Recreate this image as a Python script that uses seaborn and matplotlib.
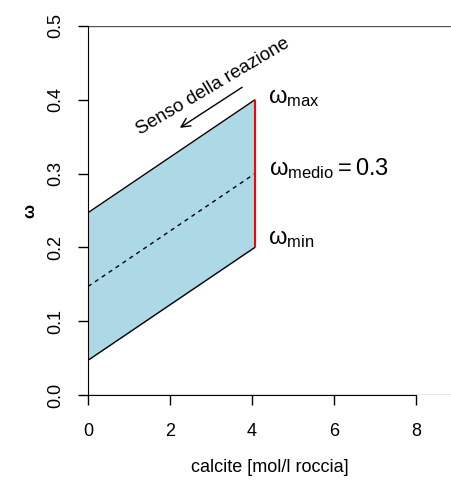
import matplotlib
matplotlib.use("Agg")
import matplotlib.pyplot as plt
import seaborn as sns
import pandas as pd

# data
calcite = [0.0, 4.07]
omega_max = [0.247, 0.40]
omega_medio = [0.147, 0.30]
omega_min = [0.047, 0.20]
x_ticks = [0, 2, 4, 6, 8]
y_ticks = [0.0, 0.1, 0.2, 0.3, 0.4, 0.5]
arrow_tail = (3.76, 0.417)
arrow_head = (2.24, 0.362)

sns.set_style("white")
plt.rcParams["font.family"] = ["Liberation Sans", "DejaVu Sans"]
plt.rcParams["mathtext.fontset"] = "custom"
plt.rcParams["mathtext.rm"] = "Liberation Sans"
plt.rcParams["mathtext.it"] = "Liberation Sans"
plt.rcParams["mathtext.bf"] = "Liberation Sans:bold"
for k in ["text.color", "axes.labelcolor", "xtick.color", "ytick.color"]:
    plt.rcParams[k] = "black"

df = pd.DataFrame({"calcite": calcite, "max": omega_max,
                   "medio": omega_medio, "min": omega_min})

fig = plt.figure(figsize=(4.51, 4.84), dpi=100)
ax = fig.add_axes([88 / 451, 1 - 395 / 484, 1 - 88 / 451, (395 - 26) / 484])

ax.fill_between(df["calcite"], df["min"], df["max"], color="#ADD8E6", lw=0)
sns.lineplot(data=df, x="calcite", y="max", color="black", lw=1, ax=ax)
sns.lineplot(data=df, x="calcite", y="min", color="black", lw=1, ax=ax)
sns.lineplot(data=df, x="calcite", y="medio", color="black", lw=1,
             linestyle=(0, (3, 3)), ax=ax)
ax.vlines(calcite[-1], omega_min[-1], omega_max[-1], color="red", lw=1.5)

ax.set_xlim(0, (451 - 88) / 41)
ax.set_ylim(0, 0.5)

# frame lines like the R plot
ax.axhline(0, color="#888888", lw=1)
ax.axhline(0.5, color="#555555", lw=1)
for s in ["top", "right"]:
    ax.spines[s].set_visible(False)
ax.spines["left"].set_color("black")
ax.spines["bottom"].set_color("black")
ax.spines["left"].set_bounds(0, 0.5)
ax.spines["bottom"].set_bounds(0, 8)
ax.spines["left"].set_zorder(5)
ax.spines["bottom"].set_zorder(5)

ax.set_xticks(x_ticks)
ax.set_yticks(y_ticks)
ax.set_yticklabels([f"{v:.1f}" for v in y_ticks], rotation=90, va="center")
ax.tick_params(axis="both", direction="out", length=7, width=1, color="black",
               labelsize=13, bottom=True, left=True)
ax.tick_params(axis="x", pad=13)
ax.tick_params(axis="y", pad=10)

ax.set_xlabel("calcite [mol/l roccia]", fontsize=13, labelpad=14)
ax.set_ylabel("ω", fontsize=12, fontweight="bold", va="center")
ax.yaxis.set_label_coords(-58 / 363, 0.5)

ax.annotate("", xy=arrow_head, xytext=arrow_tail,
            arrowprops=dict(arrowstyle="->", lw=1, color="black",
                            mutation_scale=16, shrinkA=0, shrinkB=0))
ax.text(3.05, 0.418, "Senso della reazione", rotation=30.6, fontsize=13.5,
        ha="center", va="center", rotation_mode="anchor")

ax.text(4.38, 0.403, r"$\mathrm{ω}_{\mathrm{max}}$", fontsize=17,
        ha="left", va="center")
ax.text(4.42, 0.307, r"$\mathrm{ω}_{\mathrm{medio}} = 0.3$", fontsize=17,
        ha="left", va="center")
ax.text(4.38, 0.212, r"$\mathrm{ω}_{\mathrm{min}}$", fontsize=17,
        ha="left", va="center")

fig.savefig("out.png", dpi=100)
